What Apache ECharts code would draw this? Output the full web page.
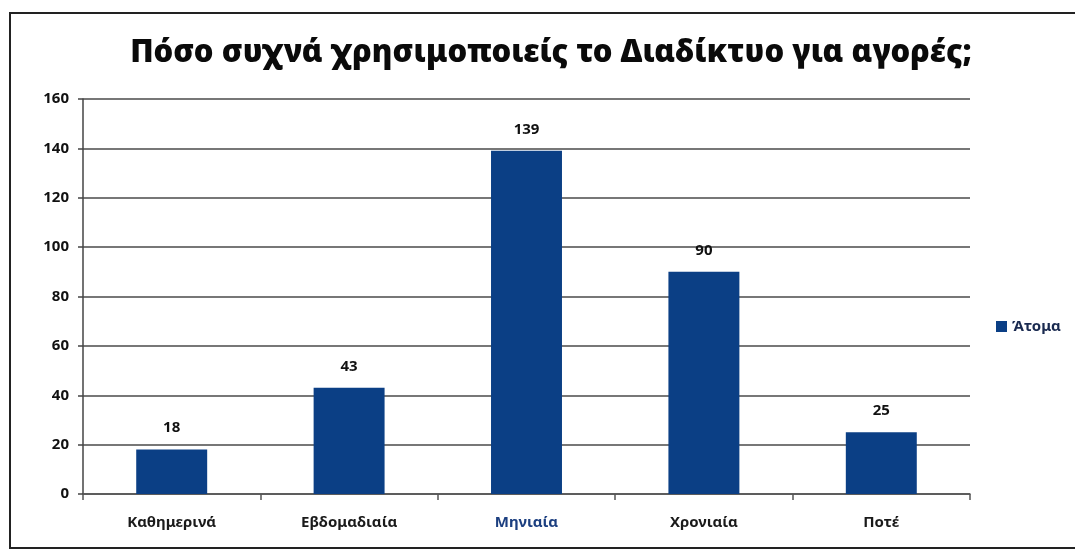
<!DOCTYPE html>
<html><head><meta charset="utf-8">
<script src="https://cdn.jsdelivr.net/npm/echarts@6/dist/echarts.min.js"></script>
<style>html,body{margin:0;padding:0;background:#fff}#c{width:1075px;height:557px}</style>
</head><body><div id="c"></div>
<script>
const categories = ['Καθημερινά', 'Εβδομαδιαία', 'Μηνιαία', 'Χρονιαία', 'Ποτέ'];
const seriesName = 'Άτομα';
const values = [18, 43, 139, 90, 25];
const titleText = 'Πόσο συχνά χρησιμοποιείς το Διαδίκτυο για αγορές;';

const chart = echarts.init(document.getElementById('c'));
chart.setOption({
  backgroundColor: '#fff',
  animation: false,
  title: {
    text: titleText, left: 546, top: 33, textAlign: 'center',
    textStyle: { fontFamily: 'Noto Sans', fontWeight: 900, fontSize: 31, color: '#0a0a0a' }
  },
  legend: {
    data: [seriesName], left: 991, top: 314, itemWidth: 11, itemHeight: 11, itemGap: 5,
    icon: 'rect',
    textStyle: { fontFamily: 'Noto Sans', fontSize: 15, fontWeight: 'bold', color: '#1a2a50' }
  },
  grid: { left: 83, right: 105, top: 99, bottom: 63 },
  xAxis: {
    type: 'category', data: categories,
    axisLine: { lineStyle: { color: '#555', width: 1.5 } },
    axisTick: { show: true, length: 6, lineStyle: { color: '#555', width: 1.5 } },
    axisLabel: {
      margin: 21, fontFamily: 'Noto Sans', fontWeight: 'bold', fontSize: 15,
      color: function (v, i) { return i === 2 ? '#1c3f80' : '#1a1a1a'; }
    }
  },
  yAxis: {
    type: 'value', min: 0, max: 160, interval: 20,
    axisLine: { show: true, lineStyle: { color: '#444', width: 1.5 } },
    axisTick: { show: true, length: 5, lineStyle: { color: '#444', width: 1.5 } },
    axisLabel: { margin: 14, fontFamily: 'Noto Sans', fontWeight: 'bold', fontSize: 15, color: '#111' },
    splitLine: { lineStyle: { color: '#4a4a4a', width: 1.5 } }
  },
  series: [{
    name: seriesName, type: 'bar', data: values, barCategoryGap: '60%',
    itemStyle: { color: '#0b3f85' },
    label: { show: true, position: 'top', distance: 14, fontFamily: 'Noto Sans', fontWeight: 'bold', fontSize: 15, color: '#111' }
  }],
  graphic: [{
    type: 'rect', shape: { x: 10, y: 13, width: 1080, height: 535 },
    style: { fill: 'none', stroke: '#222', lineWidth: 2 }, silent: true
  }]
});
</script></body></html>
